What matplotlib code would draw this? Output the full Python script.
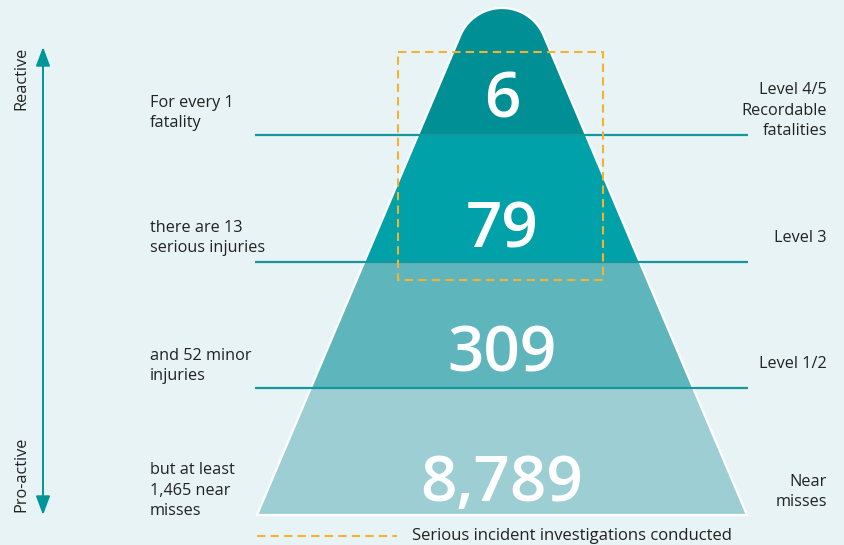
import numpy as np
import matplotlib
matplotlib.use("Agg")
import matplotlib.pyplot as plt
from matplotlib.patches import Polygon, Rectangle, FancyArrowPatch

# ---- data ----
values = ["6", "79", "309", "8,789"]
left_labels = ["For every 1\nfatality", "there are 13\nserious injuries",
               "and 52 minor\ninjuries", "but at least\n1,465 near\nmisses"]
right_labels = ["Level 4/5\nRecordable\nfatalities", "Level 3", "Level 1/2", "Near\nmisses"]
axis_labels = ["Reactive", "Pro-active"]
legend_label = "Serious incident investigations conducted"

# ---- layout (pixel space) ----
W, H = 845, 545
bounds = [0, 135, 262, 388, 515]
band_colors = ["#008F95", "#00A1A8", "#5EB6BC", "#9CCED3"]
bg = "#E8F3F5"
line_c = "#14979D"
orange = "#F4B232"
txt_c = "#222222"
font = "Open Sans"

fig = plt.figure(figsize=(W / 100, H / 100), dpi=100)
fig.patch.set_facecolor(bg)
ax = fig.add_axes([0, 0, 1, 1])
ax.set_xlim(0, W)
ax.set_ylim(H, 0)
ax.axis("off")
ax.set_facecolor(bg)

# pyramid shape with rounded apex
cx = 502
base_y = 515
half_base = 245
slope = 0.424  # dx per dy
theta = np.arctan(slope)
apex_y = base_y - half_base / slope
top_y = 8
r = (top_y - apex_y) * np.sin(theta) / (1 - np.sin(theta))
yc = top_y + r
angs = np.linspace(theta, np.pi - theta, 80)
arc_x = cx + r * np.cos(angs)
arc_y = yc - r * np.sin(angs)
pts = [(cx + half_base, base_y)] + list(zip(arc_x, arc_y)) + [(cx - half_base, base_y)]
pyr = Polygon(pts, closed=True, facecolor="none", edgecolor="white", lw=1.6, zorder=3)
ax.add_patch(pyr)
clip = Polygon(pts, closed=True, facecolor="none", edgecolor="none")
ax.add_patch(clip)
for i in range(4):
    rect = Rectangle((cx - half_base - 5, bounds[i]), 2 * half_base + 10,
                     bounds[i + 1] - bounds[i], facecolor=band_colors[i],
                     edgecolor="none", zorder=2)
    ax.add_patch(rect)
    rect.set_clip_path(clip)

# separators
for y in bounds[1:4]:
    ax.plot([255, 748], [y, y], color=line_c, lw=1.6, zorder=4, solid_capstyle="butt")

# numbers (baselines)
num_y = [118, 247, 372, 501]
for v, y in zip(values, num_y):
    ax.text(cx, y, v, ha="center", va="baseline", color="white", fontsize=46,
            fontweight="semibold", family=font, zorder=6)

# left labels (baseline of last line)
left_base = [127, 252, 380, 515]
for t, y in zip(left_labels, left_base):
    ax.text(150, y, t, ha="left", va="baseline", fontsize=11.7, color=txt_c,
            family=font, linespacing=1.37, zorder=6)

# right labels
right_base = [135, 242, 368, 506]
for t, y in zip(right_labels, right_base):
    ax.text(827, y, t, ha="right", va="baseline", fontsize=11.7, color=txt_c,
            family=font, linespacing=1.37, multialignment="right", zorder=6)

# dashed rectangle
dash = Rectangle((398, 52), 205, 228, facecolor="none", edgecolor=orange,
                 lw=1.5, ls=(0, (4, 2.5)), zorder=7)
ax.add_patch(dash)

# vertical double arrow
arr = FancyArrowPatch((43, 47), (43, 515), arrowstyle="<|-|>,head_length=11.5,head_width=4.3",
                      color="#00959A", lw=1.4, mutation_scale=1, zorder=5,
                      shrinkA=0, shrinkB=0)
ax.add_patch(arr)
ax.text(21, 78, axis_labels[0], rotation=90, ha="center", va="center",
        fontsize=11.7, color=txt_c, family=font)
ax.text(21, 474, axis_labels[1], rotation=90, ha="center", va="center",
        fontsize=11.7, color=txt_c, family=font)

# legend
ax.plot([257, 397], [536, 536], color=orange, lw=1.5, ls=(0, (4, 2.5)))
ax.text(412, 540, legend_label, ha="left", va="baseline", fontsize=12, color=txt_c,
        family=font)

fig.savefig("out.png", dpi=100, facecolor=bg)
